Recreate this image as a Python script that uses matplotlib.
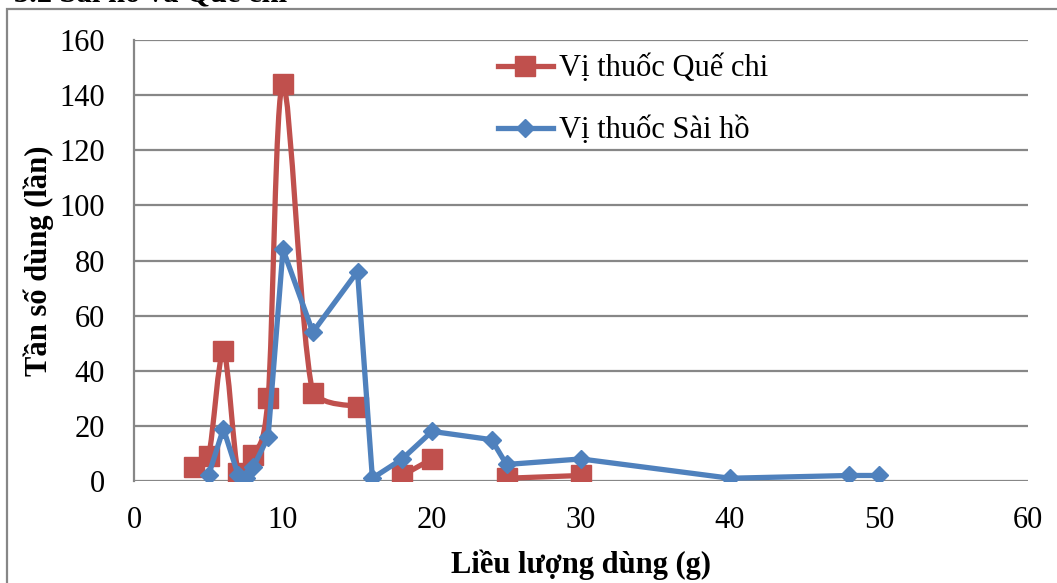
import numpy as np
import matplotlib
matplotlib.use("Agg")
import matplotlib.pyplot as plt
from matplotlib.path import Path
from matplotlib.patches import PathPatch, Rectangle
from matplotlib.lines import Line2D

plt.rcParams['font.family'] = ['Liberation Serif', 'DejaVu Serif']

# Quế chi: blank cells (nan) split the smoothed line into pieces
que_chi_x = [4, 5, 6, 7, 8, 9, 10, 12, 15, 16, 18, 20, 24, 25, 30]
que_chi_y = [5, 9, 47, 3, 9.5, 30, 144, 32, 27, np.nan, 2, 8, np.nan, 1, 2]

# Sài hồ
sai_ho_x = [5, 6, 7, 7.5, 8, 9, 10, 12, 15, 16, 18, 20, 24, 25, 30, 40, 48, 50]
sai_ho_y = [2, 19, 2, 1, 5, 16, 84, 54, 76, 1, 8, 18, 15, 6, 8, 1, 2, 2]

xticks = [0, 10, 20, 30, 40, 50, 60]
yticks = [0, 20, 40, 60, 80, 100, 120, 140, 160]

RED = '#C0504D'
BLUE = '#4F81BD'
GRID = '#878787'
W, H = 1057, 583
FS = 22


def smooth_path(xs, ys):
    # bezier through each run of non-blank points, control points kept
    # inside the segment's y-range so the curve doesn't overshoot
    verts, codes = [], []
    run = []
    pts = list(zip(xs, ys)) + [(np.nan, np.nan)]
    for x, y in pts:
        if np.isnan(y):
            if len(run) > 1:
                P = np.array(run, dtype=float)
                n = len(P)
                verts.append(P[0]); codes.append(Path.MOVETO)
                for i in range(n - 1):
                    p0 = P[i - 1] if i > 0 else P[i]
                    p3 = P[i + 2] if i + 2 < n else P[i + 1]
                    c1 = P[i] + (P[i + 1] - p0) / 6.0
                    c2 = P[i + 1] - (p3 - P[i]) / 6.0
                    lo = min(P[i][1], P[i + 1][1])
                    hi = max(P[i][1], P[i + 1][1])
                    c1[1] = np.clip(c1[1], lo, hi)
                    c2[1] = np.clip(c2[1], lo, hi)
                    verts += [c1, c2, P[i + 1]]
                    codes += [Path.CURVE4] * 3
            run = []
        else:
            run.append((x, y))
    return Path(verts, codes)


fig = plt.figure(figsize=(W / 100, H / 100), dpi=100)
ax = fig.add_axes([134 / W, 1 - 481 / H, (1028 - 134) / W, (481 - 40) / H])

ax.set_xlim(0, 60)
ax.set_ylim(0, 160)
ax.set_xticks(xticks)
ax.set_yticks(yticks)
ax.grid(axis='y', color=GRID, lw=1.6)
ax.set_axisbelow(True)
for s in ['top', 'right', 'bottom']:
    ax.spines[s].set_visible(False)
ax.spines['left'].set_color(GRID)
ax.spines['left'].set_linewidth(1.6)
ax.tick_params(length=0, labelsize=FS)
ax.tick_params(axis='y', pad=21)
ax.tick_params(axis='x', pad=18)

ax.add_patch(PathPatch(smooth_path(que_chi_x, que_chi_y), fill=False,
                       edgecolor=RED, lw=3.8, capstyle='round', zorder=3))
ax.plot(que_chi_x, que_chi_y, ls='none', marker='s', ms=14.5,
        color=RED, zorder=3)
ax.plot(sai_ho_x, sai_ho_y, color=BLUE, lw=3.8, marker='D', ms=9.5,
        solid_joinstyle='round', zorder=4)

ax.set_xlabel('Liều lượng dùng (g)', fontsize=FS, fontweight='bold')
ax.set_ylabel('Tần số dùng (lần)', fontsize=FS, fontweight='bold')
ax.xaxis.set_label_coords(0.5, -0.155)
ax.yaxis.set_label_coords(-0.09, 0.5)

handles = [
    Line2D([], [], color=RED, lw=3.8, marker='s', ms=14.5),
    Line2D([], [], color=BLUE, lw=3.8, marker='D', ms=9.5),
]
ax.legend(handles, ['Vị thuốc Quế chi', 'Vị thuốc Sài hồ'], frameon=False,
          loc='upper left', bbox_to_anchor=((470 - 134) / 894, 1.03),
          fontsize=FS, numpoints=1, handlelength=1.8, handletextpad=0.2,
          labelspacing=1.08)

# outer chart frame, running off the right and bottom edges
fig.patches.append(Rectangle((7 / W, -0.1), 1.2, 1 - 9 / H + 0.1,
                             transform=fig.transFigure, fill=False,
                             edgecolor=GRID, lw=1.6, clip_on=False))

fig.text(287 / W, 1 - 2 / H, '3.2 Sài hồ và Quế chi', ha='right',
         va='baseline', fontsize=FS, fontweight='bold')

fig.savefig('out.png', dpi=100)
